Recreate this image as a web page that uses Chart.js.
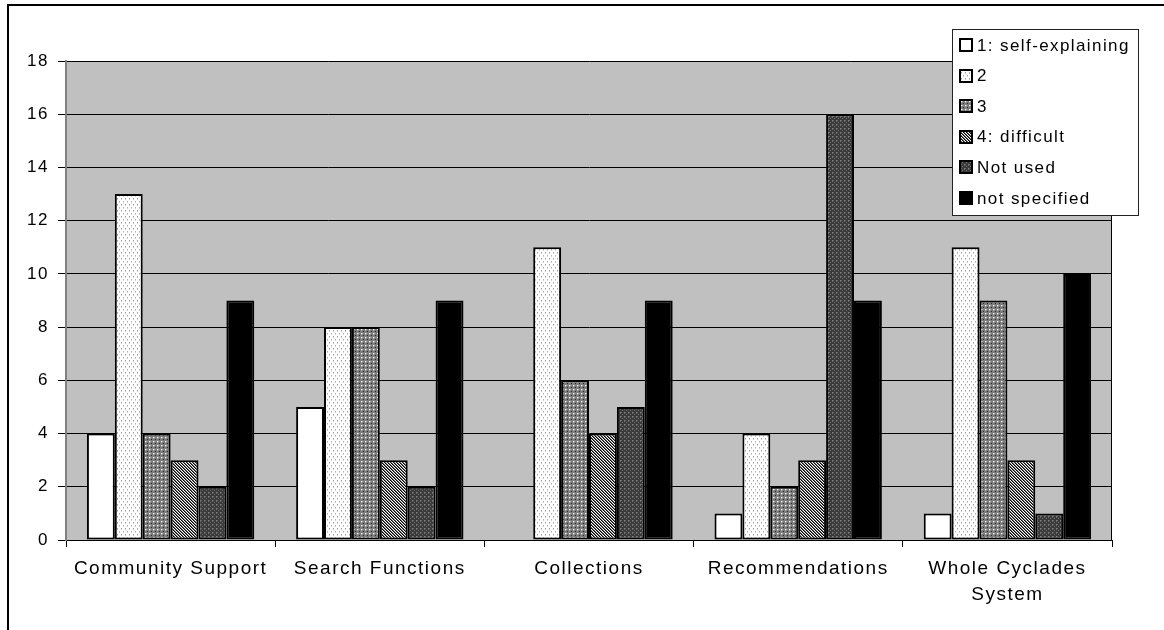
<!DOCTYPE html>
<html><head><meta charset="utf-8">
<script src="https://cdn.jsdelivr.net/npm/chart.js@4/dist/chart.umd.min.js"></script>
<style>html,body{margin:0;padding:0;background:#fff;overflow:hidden}#wrap{width:1164px;height:630px;position:relative}</style>
</head><body><div id="wrap"><canvas id="c" width="1164" height="630"></canvas></div>
<script>
const categories = [["Community Support"], ["Search Functions"], ["Collections"], ["Recommendations"], ["Whole Cyclades", "System"]];
const seriesNames = ["1: self-explaining", "2", "3", "4: difficult", "Not used", "not specified"];
const selfExplaining = [4, 5, 0, 1, 1];
const level2 = [13, 8, 11, 4, 11];
const level3 = [4, 8, 6, 2, 9];
const difficult = [3, 3, 4, 3, 3];
const notUsed = [2, 2, 5, 16, 1];
const notSpecified = [9, 9, 9, 9, 10];
const yMin = 0, yMax = 18, yStep = 2;

function tile(w, h, bg, pix) {
  const c = document.createElement('canvas'); c.width = w; c.height = h;
  const x = c.getContext('2d');
  x.fillStyle = bg; x.fillRect(0, 0, w, h);
  pix.forEach(p => { x.fillStyle = p[2]; x.fillRect(p[0], p[1], 1, 1); });
  return x.createPattern(c, 'repeat');
}
function diag() {
  const p = [];
  for (let y = 0; y < 6; y++) for (let x = 0; x < 6; x++) {
    const k = ((x - y) % 3 + 3) % 3;
    if (k === 0) p.push([x, y, '#000']);
    else if (k === 1) p.push([x, y, '#6a6a6a']);
  }
  return tile(6, 6, '#fff', p);
}
const fills = [
  '#ffffff',
  tile(4, 6, '#ffffff', [[1, 0, '#a0a0a0'], [1, 1, '#c8c8c8'], [3, 3, '#b0b0b0'], [3, 4, '#d0d0d0']]),
  tile(4, 4, '#7c7c7c', [[1, 1, '#ffffff'], [2, 1, '#b8b8b8'], [3, 3, '#2a2a2a'], [1, 2, '#a0a0a0']]),
  diag(),
  tile(4, 4, '#3a3a3a', [[0, 0, '#808080'], [1, 0, '#666666'], [0, 1, '#666666'], [2, 2, '#747474']]),
  '#000000'
];
const seriesData = [selfExplaining, level2, level3, difficult, notUsed, notSpecified];

const FONT = 'Liberation Sans, Arial, sans-serif';

const bgPlugin = {
  id: 'bg',
  beforeDraw(chart) {
    const { ctx, chartArea: a } = chart;
    ctx.save();
    ctx.fillStyle = '#fff'; ctx.fillRect(0, 0, chart.width, chart.height);
    ctx.fillStyle = '#c0c0c0'; ctx.fillRect(a.left, a.top, a.right - a.left, a.bottom - a.top);
    ctx.strokeStyle = '#000'; ctx.lineWidth = 2;
    ctx.beginPath(); ctx.moveTo(8, chart.height + 2); ctx.lineTo(8, 5); ctx.lineTo(chart.width + 2, 5); ctx.stroke();
    ctx.restore();
    ctx.letterSpacing = '1.5px';
  },
  afterDatasetsDraw(chart) {
    const { ctx, chartArea: a } = chart;
    ctx.save();
    ctx.strokeStyle = '#000'; ctx.lineWidth = 1;
    ctx.beginPath(); ctx.moveTo(a.right - 0.5, a.top); ctx.lineTo(a.right - 0.5, a.bottom); ctx.stroke();
    ctx.restore();
  },
  afterDraw(chart) {
    const ctx = chart.ctx;
    ctx.save();
    ctx.letterSpacing = '1.4px';
    const L = 952.5, T = 29.5, W = 186, H = 186;
    ctx.fillStyle = '#fff'; ctx.fillRect(L, T, W, H);
    ctx.strokeStyle = '#222'; ctx.lineWidth = 1; ctx.strokeRect(L, T, W, H);
    ctx.font = '17px ' + FONT; ctx.textBaseline = 'middle'; ctx.textAlign = 'left';
    chart.data.datasets.forEach((ds, i) => {
      const cy = 45 + i * 30.6;
      ctx.fillStyle = ds.backgroundColor;
      ctx.fillRect(960, Math.round(cy - 6), 12, 12);
      ctx.strokeStyle = '#000'; ctx.lineWidth = 2;
      ctx.strokeRect(960, Math.round(cy - 6), 12, 12);
      ctx.fillStyle = '#000';
      ctx.fillText(ds.label, 977, cy + 1);
    });
    ctx.restore();
  }
};

new Chart(document.getElementById('c'), {
  type: 'bar',
  data: {
    labels: categories,
    datasets: seriesNames.map((n, i) => ({
      label: n, data: seriesData[i], backgroundColor: fills[i],
      borderColor: '#000', borderWidth: 2, borderSkipped: false, borderRadius: 0,
      categoryPercentage: 0.8, barPercentage: 1.0
    }))
  },
  options: {
    responsive: false, animation: false, devicePixelRatio: 1,
    layout: { padding: { top: 61, right: 52, left: 0, bottom: 0 } },
    plugins: { legend: { display: false }, tooltip: { enabled: false } },
    scales: {
      x: {
        offset: true,
        grid: { offset: true, drawOnChartArea: false, drawTicks: true, tickLength: 7, color: '#000', lineWidth: 1 },
        border: { display: true, color: '#000', width: 1 },
        ticks: { font: { family: FONT, size: 19, lineHeight: 1.35 }, color: '#000', padding: 9, maxRotation: 0, autoSkip: false },
        afterFit(s) { s.height = 90; }
      },
      y: {
        min: yMin, max: yMax,
        ticks: { stepSize: yStep, font: { family: FONT, size: 17 }, color: '#000', padding: 9 },
        grid: { color: '#000', lineWidth: 1, tickLength: 8, tickColor: '#000' },
        border: { display: true, color: '#808080', width: 2 },
        afterFit(s) { s.width = 66; }
      }
    }
  },
  plugins: [bgPlugin]
});
</script></body></html>
